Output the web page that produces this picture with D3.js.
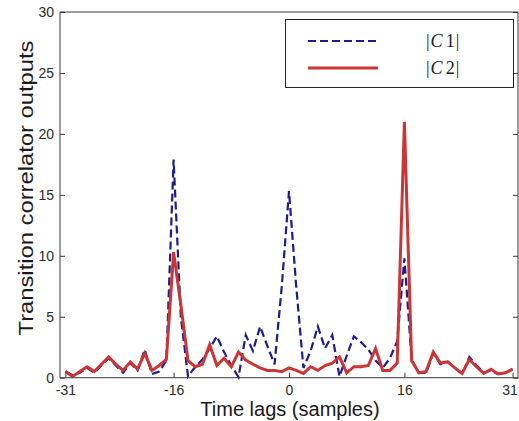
<!DOCTYPE html>
<html>
<head>
<meta charset="utf-8">
<script src="https://cdn.jsdelivr.net/npm/d3@7/dist/d3.min.js"></script>
<style>
    body { margin: 0; background: #fff; }
    svg { display: block; }
</style>
</head>
<body>
<div id="chart"></div>
<script>
// time lags (samples)
const lags = [-31, -30, -29, -28, -27, -26, -25, -24, -23, -22, -21, -20, -19, -18, -17, -16,
    -15, -14, -13, -12, -11, -10, -9, -8, -7, -6, -5, -4, -3, -2, -1, 0,
    1, 2, 3, 4, 5, 6, 7, 8, 9, 10, 11, 12, 13, 14, 15, 16,
    17, 18, 19, 20, 21, 22, 23, 24, 25, 26, 27, 28, 29, 30, 31];

// |C1| (dashed blue)
const c1 = [0.5, 0.2, 0.4, 0.8, 0.4, 1.0, 1.6, 1.0, 0.4, 1.2, 0.6, 2.3, 0.3, 0.5, 1.4, 17.9,
    5.0, 0.1, 0.9, 1.5, 2.4, 3.4, 2.1, 1.0, 0.05, 3.5, 2.2, 4.2, 2.6, 1.1, 7.5, 15.3,
    7.5, 0.8, 2.2, 4.2, 2.4, 3.5, 0.1, 1.8, 3.4, 2.9, 2.3, 1.4, 0.8, 1.6, 3.0, 9.8,
    1.5, 0.4, 0.4, 2.0, 1.1, 1.3, 0.8, 0.3, 1.7, 1.0, 0.4, 0.6, 0.3, 0.4, 0.7];

// |C2| (solid red)
const c2 = [0.5, 0.1, 0.5, 0.9, 0.5, 1.1, 1.7, 1.1, 0.6, 1.3, 0.7, 2.0, 0.6, 1.0, 1.5, 10.3,
    6.0, 1.4, 0.9, 1.1, 2.7, 1.0, 1.6, 0.9, 2.1, 1.45, 1.1, 0.8, 0.6, 0.6, 0.5, 0.8,
    0.6, 0.35, 0.9, 0.6, 1.0, 1.2, 1.7, 0.4, 0.9, 0.9, 1.0, 2.4, 0.6, 0.6, 1.2, 21.0,
    1.4, 0.4, 0.5, 2.1, 1.2, 1.3, 0.8, 0.35, 1.5, 0.9, 0.35, 0.7, 0.3, 0.4, 0.7];

const xTicks = [-31, -16, 0, 16, 31];
const yTicks = [0, 5, 10, 15, 20, 25, 30];

const width = 519, height = 421;
const plotLeft = 60, plotRight = 518, plotTop = 12, plotBottom = 377.7;

const svg = d3.select("#chart").append("svg")
    .attr("width", width)
    .attr("height", height);

const x = d3.scaleLinear().domain([-31.75, 31.75]).range([plotLeft, plotRight]);
const y = d3.scaleLinear().domain([0, 30]).range([plotBottom, plotTop]);

// lines first, frame drawn on top
const line = (vals) => d3.line()
    .x((d, i) => x(lags[i]))
    .y(d => y(d))(vals);

svg.append("path")
    .attr("d", line(c1))
    .attr("fill", "none")
    .attr("stroke", "#1c1c8e")
    .attr("stroke-width", 2.2)
    .attr("stroke-dasharray", "8,4");

svg.append("path")
    .attr("d", line(c2))
    .attr("fill", "none")
    .attr("stroke", "#cc3535")
    .attr("stroke-width", 3)
    .attr("stroke-linejoin", "miter");

// box
svg.append("rect")
    .attr("x", plotLeft).attr("y", plotTop)
    .attr("width", plotRight - plotLeft).attr("height", plotBottom - plotTop)
    .attr("fill", "none")
    .attr("stroke", "#3a3a3a")
    .attr("stroke-width", 1);

// axes with inward ticks, plain hyphen for the minus sign
const fmt = d => String(d);

const xAxis = svg.append("g")
    .attr("transform", `translate(0,${plotBottom})`)
    .call(d3.axisBottom(x).tickValues(xTicks).tickFormat(fmt)
        .tickSizeInner(-5).tickSizeOuter(0).tickPadding(7));

const yAxis = svg.append("g")
    .attr("transform", `translate(${plotLeft},0)`)
    .call(d3.axisLeft(y).tickValues(yTicks).tickFormat(fmt)
        .tickSizeInner(-5).tickSizeOuter(0).tickPadding(6));

const yAxisR = svg.append("g")
    .attr("transform", `translate(${plotRight},0)`)
    .call(d3.axisRight(y).tickValues(yTicks).tickSizeInner(-5).tickSizeOuter(0).tickFormat(""));

[xAxis, yAxis, yAxisR].forEach(g => {
    g.select(".domain").remove();
    g.selectAll("line").attr("stroke", "#3a3a3a");
    g.selectAll("text")
        .style("font-family", "Arial, 'Liberation Sans', sans-serif")
        .style("font-size", "14px")
        .attr("fill", "#2a2a2a");
});

// keep the last x label inside the picture
xAxis.selectAll("text").filter(d => d === 31).attr("dx", -3);

// axis titles
svg.append("text")
    .attr("x", 290)
    .attr("y", 416)
    .attr("text-anchor", "middle")
    .style("font-family", "Arial, 'Liberation Sans', sans-serif")
    .style("font-size", "20px")
    .attr("fill", "#1a1a1a")
    .text("Time lags (samples)");

svg.append("text")
    .attr("transform", "translate(33,188) rotate(-90)")
    .attr("text-anchor", "middle")
    .attr("textLength", 295)
    .attr("lengthAdjust", "spacingAndGlyphs")
    .style("font-family", "Arial, 'Liberation Sans', sans-serif")
    .style("font-size", "21px")
    .attr("fill", "#1a1a1a")
    .text("Transition correlator outputs");

// legend
const legend = svg.append("g");
legend.append("rect")
    .attr("x", 285.5).attr("y", 19.5)
    .attr("width", 228).attr("height", 68)
    .attr("fill", "#fff")
    .attr("stroke", "#222")
    .attr("stroke-width", 1);

const legendItems = [
    { label: "1", color: "#1c1c8e", dash: "8,4", w: 2.2 },
    { label: "2", color: "#cc3535", dash: null, w: 3 }
];

legendItems.forEach((d, i) => {
    const ly = 41 + i * 27;
    legend.append("line")
        .attr("x1", 308).attr("x2", 378)
        .attr("y1", ly).attr("y2", ly)
        .attr("stroke", d.color)
        .attr("stroke-width", d.w)
        .attr("stroke-dasharray", d.dash);
    const t = legend.append("text")
        .attr("x", 426)
        .attr("y", ly + 6)
        .style("font-family", "'Liberation Serif', 'DejaVu Serif', serif")
        .style("font-size", "18px")
        .attr("fill", "#222");
    t.append("tspan").text("|");
    t.append("tspan").attr("font-style", "italic").attr("dx", 1).text("C");
    t.append("tspan").attr("dx", 3).text(d.label);
    t.append("tspan").attr("dx", 1).text("|");
});
</script>
</body>
</html>
